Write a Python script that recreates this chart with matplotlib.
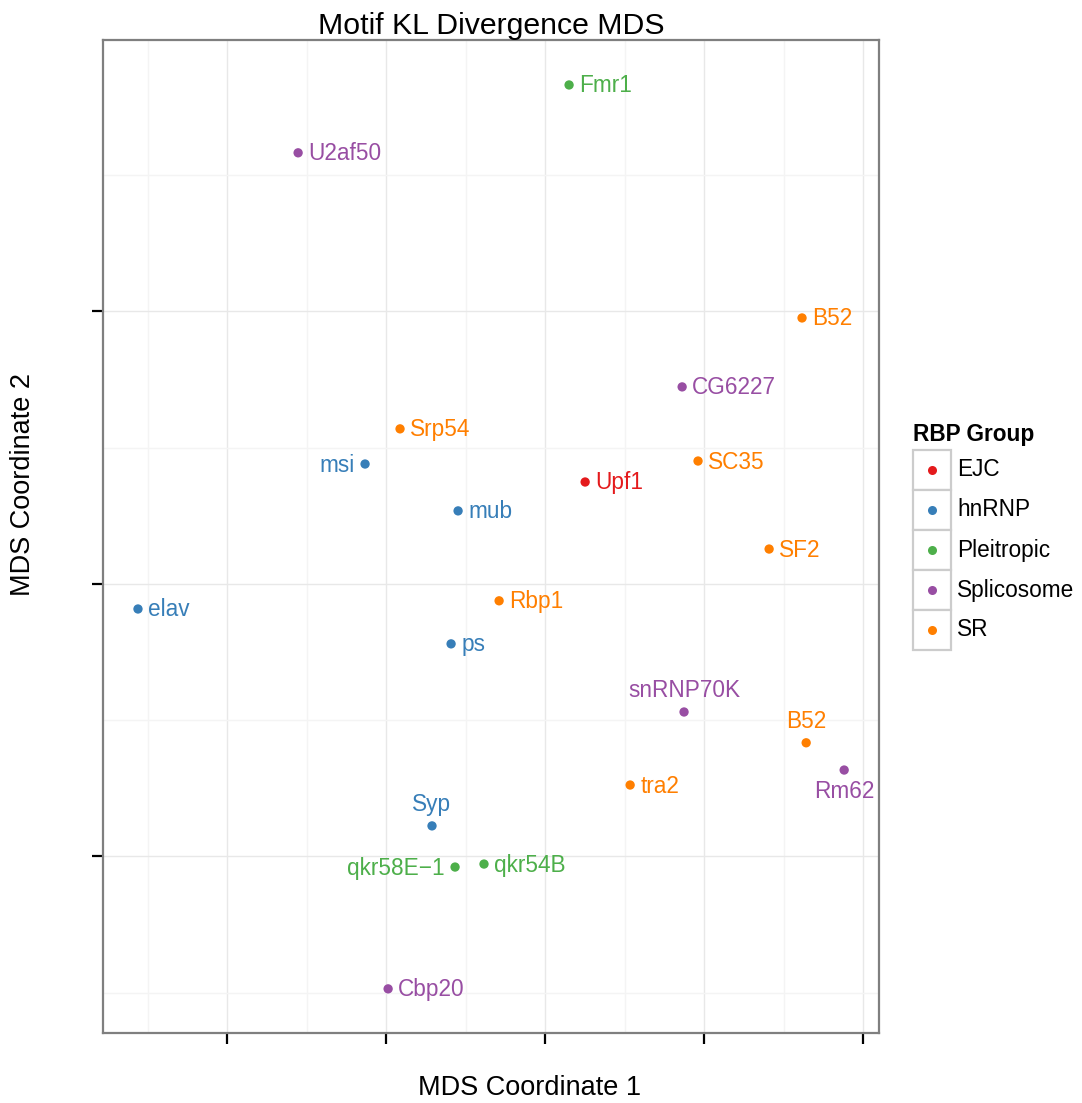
import matplotlib
matplotlib.use("Agg")
import matplotlib.pyplot as plt
from matplotlib.patches import Rectangle

plt.rcParams['font.family'] = ['Liberation Sans', 'DejaVu Sans']

# MDS coordinates
names = ["Fmr1", "U2af50", "B52", "CG6227", "Srp54", "msi", "SC35", "Upf1", "mub", "SF2",
         "Rbp1", "elav", "ps", "snRNP70K", "B52", "Rm62", "tra2", "Syp", "qkr58E\u22121", "qkr54B", "Cbp20"]
groups = ["Pleitropic", "Splicosome", "SR", "Splicosome", "SR", "hnRNP", "SR", "EJC", "hnRNP", "SR",
          "SR", "hnRNP", "hnRNP", "Splicosome", "SR", "Splicosome", "SR", "hnRNP", "Pleitropic", "Pleitropic", "Splicosome"]
coord1 = [0.0151, -0.1553, 0.1616, 0.0862, -0.0912, -0.1132, 0.0962, 0.0252, -0.0547, 0.1409,
          -0.0289, -0.2560, -0.0591, 0.0874, 0.1642, 0.1881, 0.0535, -0.0711, -0.0566, -0.0384, -0.0987]
coord2 = [0.1831, 0.1582, 0.0976, 0.0723, 0.0569, 0.0440, 0.0451, 0.0374, 0.0268, 0.0128,
          -0.0062, -0.0092, -0.0220, -0.0470, -0.0583, -0.0683, -0.0738, -0.0888, -0.1039, -0.1028, -0.1486]
# where each label sits relative to its point
label_side = ["r", "r", "r", "r", "r", "l", "r", "r", "r", "r",
              "r", "r", "r", "t", "t", "b", "r", "t", "l", "r", "r"]

group_names = ["EJC", "hnRNP", "Pleitropic", "Splicosome", "SR"]
group_colors = ["#E41A1C", "#377EB8", "#4DAF4A", "#984EA3", "#FF7F00"]
cmap = dict(zip(group_names, group_colors))

W, H = 1082, 1103
fig = plt.figure(figsize=(W / 100, H / 100), dpi=100)
ax = fig.add_axes([103 / W, 1 - 1033 / H, 776 / W, 993 / H])

cols = [cmap[g] for g in groups]
ax.scatter(coord1, coord2, c=cols, s=45, linewidths=0, zorder=3)

off = 10
for n, x, y, c, s in zip(names, coord1, coord2, cols, label_side):
    if s == "r":
        kw = dict(xytext=(off, -1), ha="left", va="center")
    elif s == "l":
        kw = dict(xytext=(-off, -1), ha="right", va="center")
    elif s == "t":
        kw = dict(xytext=(0, off), ha="center", va="bottom")
    else:
        kw = dict(xytext=(0, -off), ha="center", va="top")
    ax.annotate(n, (x, y), textcoords="offset pixels", color=c, fontsize=16.3, **kw)

ax.set_xlim(-0.278, 0.210)
ax.set_ylim(-0.1648, 0.1996)
ax.set_xticks([-0.2, -0.1, 0.0, 0.1, 0.2])
ax.set_yticks([-0.1, 0.0, 0.1])
ax.set_xticks([-0.25, -0.15, -0.05, 0.05, 0.15], minor=True)
ax.set_yticks([-0.15, -0.05, 0.05, 0.15], minor=True)
ax.set_xticklabels([])
ax.set_yticklabels([])
ax.tick_params(which="major", length=8, width=1.6, color="black", direction="out")
ax.tick_params(which="minor", length=0)
ax.grid(which="major", color="#e8e8e8", lw=1.0, zorder=0)
ax.grid(which="minor", color="#f4f4f4", lw=1.0, zorder=0)
ax.set_axisbelow(True)
for sp in ax.spines.values():
    sp.set_color("#7f7f7f")
    sp.set_linewidth(1.6)

ax.set_title("Motif KL Divergence MDS", fontsize=21.8, pad=3)
ax.set_xlabel("MDS Coordinate 1", fontsize=19.5)
ax.set_ylabel("MDS Coordinate 2", fontsize=19.5)
ax.xaxis.set_label_coords(0.550, -0.042)
ax.yaxis.set_label_coords(-0.103, 0.552)
ax.yaxis.label.set_verticalalignment("center")

# legend drawn by hand so the keys get ggplot-style boxes
def fx(px):
    return px / W

def fy(py):
    return 1 - py / H

fig.text(fx(913), fy(435), "RBP Group", fontsize=16.3, fontweight="bold", ha="left", va="center")
top, kh, kw_ = 450, 40, 38
for i, (g, c) in enumerate(zip(group_names, group_colors)):
    y0 = top + i * kh
    fig.add_artist(Rectangle((fx(913), fy(y0 + kh)), kw_ / W, kh / H, transform=fig.transFigure,
                             facecolor="white", edgecolor="#cccccc", lw=1.6))
    fig.add_artist(plt.Line2D([fx(913 + kw_ / 2)], [fy(y0 + kh / 2)], marker="o", ms=6.5,
                              color=c, mec="none", transform=fig.transFigure))
    fig.text(fx(957), fy(y0 + kh / 2), g, fontsize=16.3, ha="left", va="center")

fig.savefig("out.png", dpi=100)
